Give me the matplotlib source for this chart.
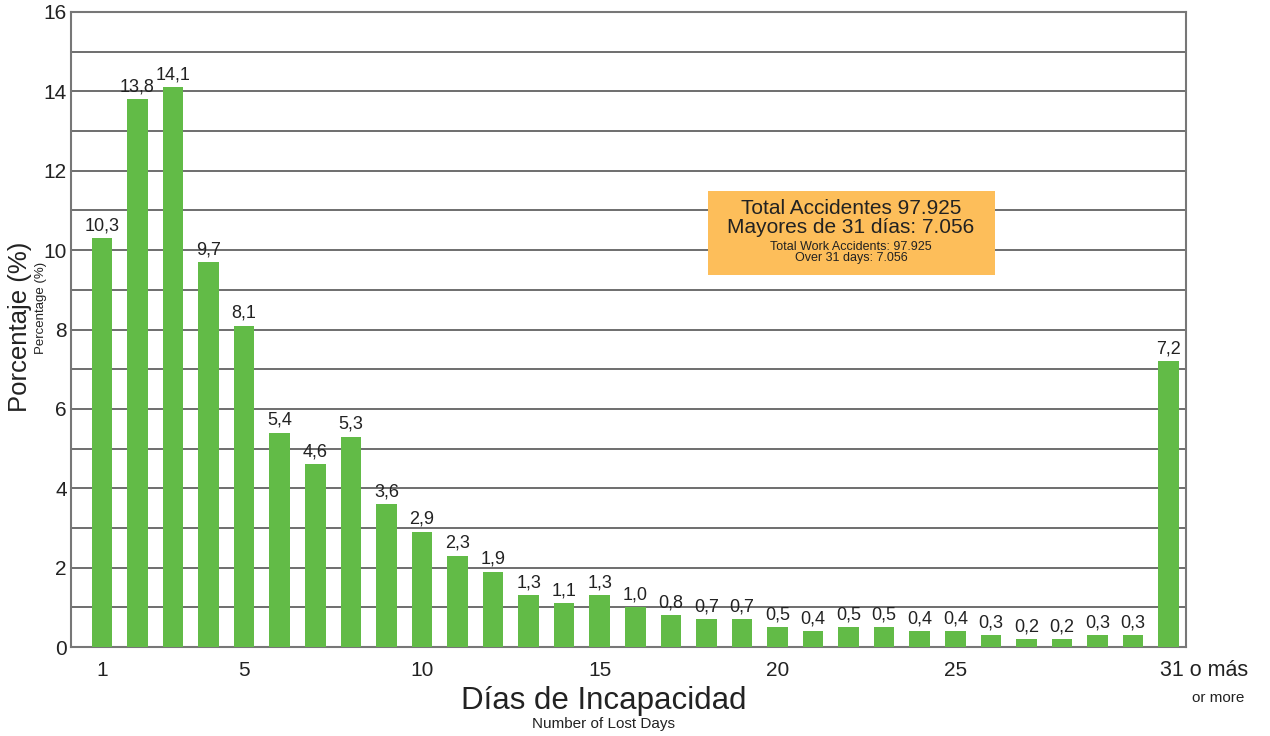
import matplotlib
matplotlib.use("Agg")
import matplotlib.pyplot as plt
from matplotlib.patches import Rectangle

plt.rcParams['font.family'] = ['Liberation Sans', 'DejaVu Sans']

days = list(range(1, 32))
values = [10.3, 13.8, 14.1, 9.7, 8.1, 5.4, 4.6, 5.3, 3.6, 2.9, 2.3, 1.9, 1.3, 1.1, 1.3,
          1.0, 0.8, 0.7, 0.7, 0.5, 0.4, 0.5, 0.5, 0.4, 0.4, 0.3, 0.2, 0.2, 0.3, 0.3, 7.2]
xtick_pos = [1, 5, 10, 15, 20, 25]
xtick_labels = ['1', '5', '10', '15', '20', '25']
ytick_pos = [0, 2, 4, 6, 8, 10, 12, 14, 16]

TXT = '#222222'

fig = plt.figure(figsize=(12.7, 7.36), dpi=100)
ax = fig.add_axes([0.0559, 0.1209, 0.8780, 0.8628])

ax.bar(days, values, width=0.58, color='#62BB47', zorder=3)
for d, v in zip(days, values):
    ax.text(d, v + 0.1, f"{v:.1f}".replace('.', ','), ha='center', va='bottom',
            fontsize=13, color=TXT, zorder=4)

ax.set_xlim(0.13, 31.49)
ax.set_ylim(0, 16)
for y in range(0, 17):
    ax.axhline(y, color='#555555', lw=1.2, zorder=1)

ax.set_yticks(ytick_pos)
ax.set_yticklabels([str(t) for t in ytick_pos], fontsize=15, color=TXT)
ax.set_xticks(xtick_pos)
ax.set_xticklabels(xtick_labels, fontsize=15, color=TXT)
ax.tick_params(axis='x', length=0, pad=10)
ax.tick_params(axis='y', length=0, pad=3)
for s in ax.spines.values():
    s.set_color('#777777')
    s.set_linewidth(1.5)

fig.text(1160/1270, 1 - 670/736, '31 o más', ha='left', va='center', fontsize=15.5,
         color=TXT)
fig.text(1218/1270, 1 - 698/736, 'or more', ha='center', va='center', fontsize=11,
         color=TXT)

fig.text(604/1270, 1 - 701/736, 'Días de Incapacidad', ha='center', va='center',
         fontsize=22.5, color=TXT)
fig.text(604/1270, 1 - 724/736, 'Number of Lost Days', ha='center', va='center',
         fontsize=11, color=TXT)
fig.text(20/1270, 1 - 327/736, 'Porcentaje (%)', ha='center', va='center',
         rotation=90, fontsize=18.5, color=TXT)
fig.text(41/1270, 1 - 308/736, 'Percentage (%)', ha='center', va='center',
         rotation=90, fontsize=9.5, color=TXT)

# annotation box
fig.patches.append(Rectangle((708/1270, 1 - 275/736), 287/1270, 84/736,
                             transform=fig.transFigure, facecolor='#FDBE5A',
                             edgecolor='none', zorder=5))
cx = 851/1270
fig.text(cx, 1 - 209/736, 'Total Accidentes 97.925', ha='center', va='center',
         fontsize=15, color=TXT, zorder=6)
fig.text(cx, 1 - 228/736, 'Mayores de 31 días: 7.056', ha='center', va='center',
         fontsize=15, color=TXT, zorder=6)
fig.text(cx, 1 - 247/736, 'Total Work Accidents: 97.925', ha='center', va='center',
         fontsize=9, color=TXT, zorder=6)
fig.text(cx, 1 - 258/736, 'Over 31 days: 7.056', ha='center', va='center',
         fontsize=9, color=TXT, zorder=6)

fig.savefig('out.png', dpi=100)
